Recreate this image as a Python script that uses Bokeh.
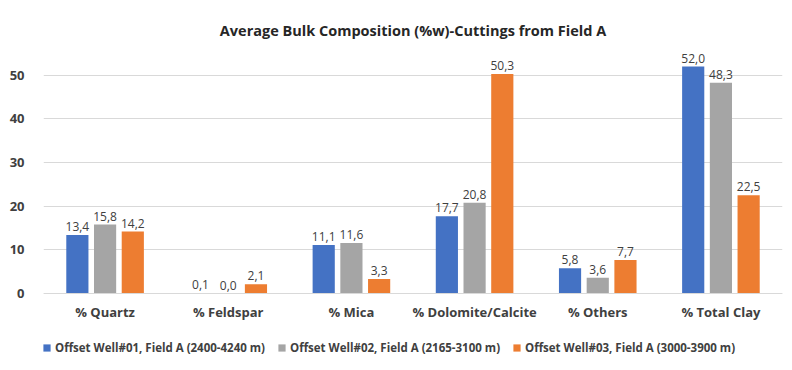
from bokeh.plotting import figure
from bokeh.models import ColumnDataSource, FactorRange, LabelSet, Legend, LegendItem, Range1d
from bokeh.core.properties import value
from bokeh.transform import dodge
from bokeh.embed import file_html
from bokeh.resources import INLINE

categories = ["% Quartz", "% Feldspar", "% Mica", "% Dolomite/Calcite", "% Others", "% Total Clay"]
well01 = [13.4, 0.1, 11.1, 17.7, 5.8, 52.0]
well02 = [15.8, 0.0, 11.6, 20.8, 3.6, 48.3]
well03 = [14.2, 2.1, 3.3, 50.3, 7.7, 22.5]
series_names = ["Offset Well#01, Field A (2400-4240 m)",
                "Offset Well#02, Field A (2165-3100 m)",
                "Offset Well#03, Field A (3000-3900 m)"]
colors = ["#4472C4", "#A5A5A5", "#ED7D31"]
y_ticks = [0, 10, 20, 30, 40, 50]

def fmt(vals):
    return [f"{v:.1f}".replace(".", ",") for v in vals]

src = ColumnDataSource(dict(
    cat=categories, w1=well01, w2=well02, w3=well03,
    t1=fmt(well01), t2=fmt(well02), t3=fmt(well03),
))

FONT = "Open Sans"

p = figure(width=792, height=370, x_range=FactorRange(*categories, range_padding=0),
           y_range=Range1d(-16.5, 55), output_backend="svg", toolbar_location=None,
           min_border_left=43, min_border_right=10, min_border_top=53, min_border_bottom=5)
p.title.text = "Average Bulk Composition (%w)-Cuttings from Field A"
p.title.align = "center"
p.title.text_font = FONT
p.title.text_font_size = "14.5px"
p.title.text_font_style = "bold"
p.title.text_color = "#262626"
p.title.offset = 0
p.title.standoff = 28

p.outline_line_color = None
p.background_fill_color = "white"

offsets = [-0.225, 0.0, 0.225]
renderers = []
for i, (col, tcol) in enumerate([("w1", "t1"), ("w2", "t2"), ("w3", "t3")]):
    r = p.vbar(x=dodge("cat", offsets[i], range=p.x_range), top=col, bottom=0, width=0.18,
               source=src, color=colors[i], line_color=None)
    renderers.append(r)
    labels = LabelSet(x=dodge("cat", offsets[i], range=p.x_range), y=col, text=tcol,
                      source=src, text_align="center", text_baseline="bottom",
                      y_offset=4, text_font=value(FONT), text_font_size=value("12px"),
                      text_color="#404040")
    p.add_layout(labels)

p.yaxis.ticker = y_ticks
p.yaxis.axis_line_color = None
p.yaxis.major_tick_line_color = None
p.yaxis.minor_tick_line_color = None
p.yaxis.major_label_text_font = FONT
p.yaxis.major_label_text_font_size = "13px"
p.yaxis.major_label_text_font_style = "bold"
p.yaxis.major_label_text_color = "#404040"
p.yaxis.major_label_standoff = 13

p.xaxis.fixed_location = 0
p.xaxis.axis_line_color = "#D9D9D9"
p.xaxis.major_tick_line_color = None
p.xaxis.minor_tick_line_color = None
p.xaxis.major_label_text_font = FONT
p.xaxis.major_label_text_font_size = "13px"
p.xaxis.major_label_text_font_style = "bold"
p.xaxis.major_label_text_color = "#404040"
p.xaxis.major_label_standoff = 3

p.xgrid.grid_line_color = None
p.ygrid.grid_line_color = "#D9D9D9"
p.ygrid.ticker = y_ticks

legend = Legend(items=[LegendItem(label=series_names[i], renderers=[renderers[i]]) for i in range(3)],
                orientation="horizontal", location=(-1, 10),
                label_text_font=FONT, label_text_font_size="11.5px",
                label_text_font_style="bold", label_text_color="#404040",
                glyph_width=9, glyph_height=9, spacing=12, label_standoff=4,
                label_height=14, border_line_color=None, background_fill_alpha=0,
                padding=0, margin=0)
p.add_layout(legend, "center")

open("out.html", "w").write(file_html(p, INLINE))
